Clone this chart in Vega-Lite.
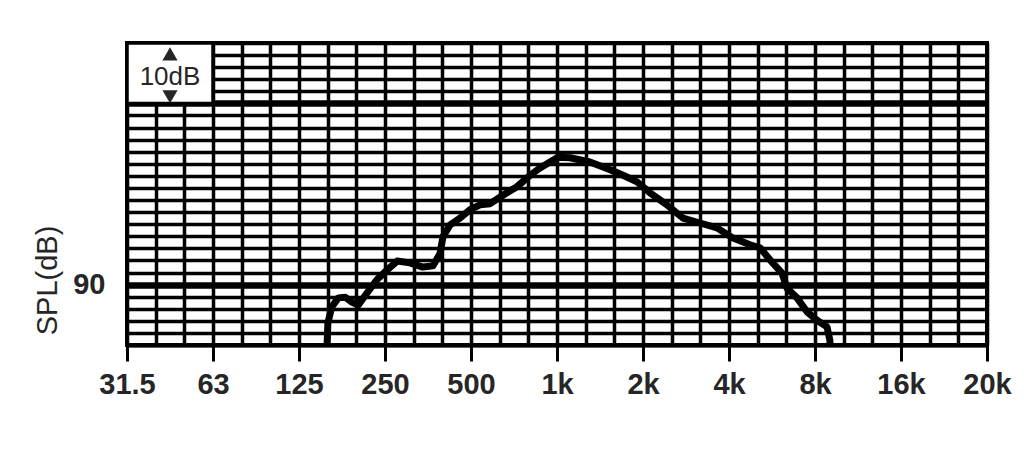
{
  "$schema": "https://vega.github.io/schema/vega-lite/v6.json",
  "width": 860,
  "height": 302,
  "autosize": "none",
  "padding": {"left": 127, "top": 43, "right": 37, "bottom": 105},
  "background": "white",
  "config": {
    "view": {"stroke": "black", "strokeWidth": 4},
    "font": "Liberation Sans"
  },
  "datasets": {
    "curve": [
      {"freq": 158, "spl": 80},
      {"freq": 159, "spl": 83.6},
      {"freq": 164, "spl": 86.3},
      {"freq": 173, "spl": 87.8},
      {"freq": 183, "spl": 87.9},
      {"freq": 193, "spl": 87.1},
      {"freq": 203, "spl": 86.6},
      {"freq": 218, "spl": 88.6},
      {"freq": 236, "spl": 90.8},
      {"freq": 256, "spl": 92.4},
      {"freq": 278, "spl": 93.9},
      {"freq": 308, "spl": 93.6},
      {"freq": 342, "spl": 92.9},
      {"freq": 371, "spl": 93.1},
      {"freq": 393, "spl": 95.2},
      {"freq": 402, "spl": 97.9},
      {"freq": 426, "spl": 99.9},
      {"freq": 461, "spl": 101.0},
      {"freq": 500, "spl": 102.4},
      {"freq": 542, "spl": 103.2},
      {"freq": 588, "spl": 103.4},
      {"freq": 652, "spl": 104.8},
      {"freq": 730, "spl": 106.2},
      {"freq": 811, "spl": 108.1},
      {"freq": 879, "spl": 109.3},
      {"freq": 953, "spl": 110.3},
      {"freq": 1016, "spl": 111.1},
      {"freq": 1119, "spl": 111.0},
      {"freq": 1315, "spl": 110.3},
      {"freq": 1547, "spl": 109.0},
      {"freq": 1716, "spl": 108.1},
      {"freq": 1921, "spl": 107.0},
      {"freq": 2133, "spl": 105.2},
      {"freq": 2446, "spl": 103.2},
      {"freq": 2782, "spl": 101.0},
      {"freq": 3191, "spl": 100.2},
      {"freq": 3660, "spl": 99.4},
      {"freq": 4165, "spl": 97.7},
      {"freq": 4776, "spl": 96.6},
      {"freq": 5175, "spl": 96.1},
      {"freq": 5611, "spl": 94.1},
      {"freq": 6180, "spl": 91.9},
      {"freq": 6436, "spl": 89.4},
      {"freq": 6975, "spl": 87.8},
      {"freq": 7560, "spl": 85.5},
      {"freq": 8195, "spl": 84.1},
      {"freq": 8884, "spl": 83.0},
      {"freq": 9090, "spl": 80.8},
      {"freq": 9100, "spl": 80}
    ],
    "box": [{"freq": 31.5, "freq2": 63, "spl": 120, "spl2": 130}],
    "boxlabel": [{"freq": 44.55, "spl": 124.4, "label": "10dB"}],
    "arrows": [
      {"freq": 44.55, "spl": 128.2, "dir": "up"},
      {"freq": 44.55, "spl": 121.1, "dir": "down"}
    ]
  },
  "encoding": {
    "x": {
      "field": "freq",
      "type": "quantitative",
      "scale": {"type": "log", "base": 2, "domain": [31.5, 32256], "nice": false, "zero": false},
      "axis": {
        "title": null,
        "values": [31.5, 39.6875, 50.0031, 63, 79.375, 100.0063, 126, 158.75, 200.0125, 252, 317.5, 400.025, 504, 635, 800.05, 1008, 1270, 1600.1, 2016, 2540, 3200.2, 4032, 5080, 6400.4, 8064, 10160, 12800.8, 16128, 20320, 25601.6, 32256],
        "grid": true,
        "gridColor": "black",
        "gridWidth": 3.5,
        "gridOpacity": 1,
        "domain": true,
        "domainColor": "black",
        "domainWidth": 4,
        "ticks": true,
        "tickColor": "black",
        "tickWidth": 3,
        "tickSize": 16,
        "tickOpacity": {"condition": {"test": "round(log(datum.value/31.5)/log(2)*3) % 3 == 0", "value": 1}, "value": 0},
        "labelExpr": "(round(log(datum.value/31.5)/log(2)*3) % 3 == 0) ? ['31.5','63','125','250','500','1k','2k','4k','8k','16k','20k'][round(log(datum.value/31.5)/log(2))] : ''",
        "labelFont": "Liberation Sans",
        "labelFontSize": 29,
        "labelFontWeight": "bold",
        "labelColor": "#262626",
        "labelPadding": 9,
        "labelOverlap": false,
        "labelFlush": false,
        "labelBound": false
      }
    },
    "y": {
      "field": "spl",
      "type": "quantitative",
      "scale": {"domain": [80, 130], "nice": false, "zero": false},
      "axis": {
        "title": "SPL(dB)",
        "titleFont": "Liberation Sans",
        "titleFontSize": 29,
        "titleFontWeight": "normal",
        "titleColor": "#262626",
        "titleAngle": -90,
        "titleBaseline": "middle",
        "titleAlign": "center",
        "titleX": -80,
        "titleY": 237,
        "values": [80, 82, 84, 86, 88, 90, 92, 94, 96, 98, 100, 102, 104, 106, 108, 110, 112, 114, 116, 118, 120, 122, 124, 126, 128, 130],
        "grid": true,
        "gridColor": "black",
        "gridOpacity": 1,
        "gridWidth": {"condition": {"test": "datum.value == 90 || datum.value == 120", "value": 6.5}, "value": 3.5},
        "domain": false,
        "ticks": false,
        "labelExpr": "datum.value == 90 ? '90' : ''",
        "labelFont": "Liberation Sans",
        "labelFontSize": 29,
        "labelFontWeight": "bold",
        "labelColor": "#262626",
        "labelPadding": 22,
        "labelOverlap": false,
        "labelBaseline": "middle"
      }
    }
  },
  "layer": [
    {
      "data": {"name": "curve"},
      "mark": {"type": "line", "color": "black", "strokeWidth": 7, "strokeJoin": "round", "strokeCap": "round", "clip": true}
    },
    {
      "data": {"name": "box"},
      "mark": {"type": "rect", "fill": "white", "stroke": "black", "strokeWidth": 3.5},
      "encoding": {
        "x2": {"field": "freq2"},
        "y2": {"field": "spl2"}
      }
    },
    {
      "data": {"name": "boxlabel"},
      "mark": {"type": "text", "font": "Liberation Sans", "fontSize": 26, "color": "#262626", "align": "center", "baseline": "middle"},
      "encoding": {
        "text": {"field": "label"}
      }
    },
    {
      "data": {"name": "arrows"},
      "mark": {"type": "point", "filled": true, "color": "#262626", "size": 230, "opacity": 1},
      "encoding": {
        "shape": {"field": "dir", "type": "nominal", "scale": {"domain": ["up", "down"], "range": ["triangle-up", "triangle-down"]}, "legend": null}
      }
    }
  ]
}
